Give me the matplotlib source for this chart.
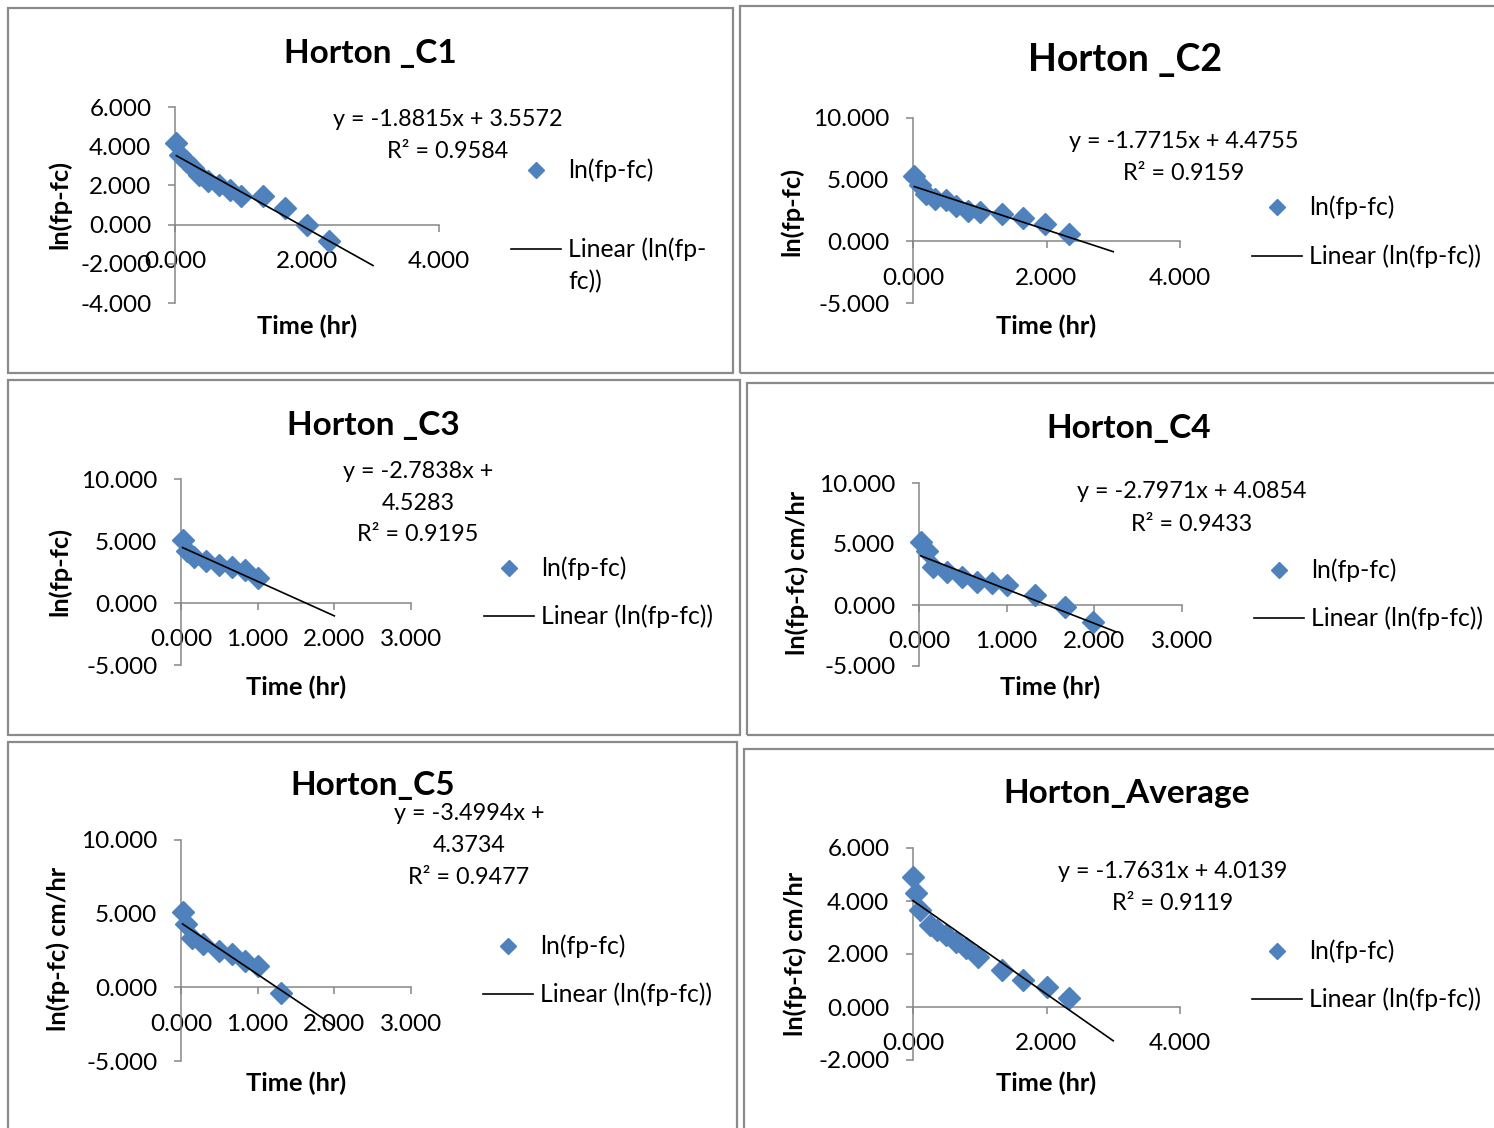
import matplotlib
matplotlib.use("Agg")
import numpy as np
import matplotlib.pyplot as plt
from matplotlib.lines import Line2D
from matplotlib.patches import Rectangle
from matplotlib.ticker import FuncFormatter, MultipleLocator

plt.rcParams['font.family'] = ['Lato', 'DejaVu Sans']

W, H = 1494, 1128
BLUE = '#4F81BD'
GREY = '#868686'

# data: time (hr) and ln(fp-fc)
c1_t = [0.02, 0.08, 0.17, 0.27, 0.37, 0.5, 0.67, 0.83, 1.0, 1.33, 1.67, 2.0, 2.33]
c1_v = [4.17, 3.56, 3.22, 2.88, 2.54, 2.2, 2.04, 1.78, 1.44, 1.44, 0.85, 0.0, -0.85]
c2_t = [0.02, 0.1, 0.2, 0.33, 0.5, 0.65, 0.82, 1.0, 1.33, 1.65, 1.98, 2.33]
c2_v = [5.3, 4.55, 3.85, 3.45, 3.35, 2.87, 2.5, 2.35, 2.2, 1.92, 1.38, 0.57]
c3_t = [0.02, 0.08, 0.17, 0.33, 0.5, 0.67, 0.83, 1.0]
c3_v = [5.1, 4.2, 3.75, 3.35, 3.1, 2.9, 2.65, 2.0]
c4_t = [0.02, 0.09, 0.16, 0.32, 0.49, 0.66, 0.83, 1.0, 1.32, 1.66, 1.99]
c4_v = [5.2, 4.4, 3.14, 2.73, 2.32, 1.91, 1.78, 1.64, 0.82, -0.14, -1.37]
c5_t = [0.02, 0.07, 0.14, 0.29, 0.49, 0.66, 0.83, 1.0, 1.31]
c5_v = [5.08, 4.28, 3.37, 2.92, 2.46, 2.24, 1.79, 1.45, -0.36]
avg_t = [0.0, 0.05, 0.1, 0.25, 0.36, 0.5, 0.65, 0.8, 0.98, 1.33, 1.65, 2.0, 2.33]
avg_v = [4.92, 4.29, 3.66, 3.09, 2.9, 2.72, 2.46, 2.21, 1.9, 1.4, 1.02, 0.77, 0.33]

# excel trendline coefficients (slope, intercept, r2) and forecast end
slopes = [-1.8815, -1.7715, -2.7838, -2.7971, -3.4994, -1.7631]
intercepts = [3.5572, 4.4755, 4.5283, 4.0854, 4.3734, 4.0139]
r2s = [0.9584, 0.9159, 0.9195, 0.9433, 0.9477, 0.9119]
trend_end = [3.0, 3.0, 2.0, 2.25, 2.0, 3.0]

titles = ['Horton _C1', 'Horton _C2', 'Horton _C3', 'Horton_C4', 'Horton_C5', 'Horton_Average']
ylabels = ['ln(fp-fc)', 'ln(fp-fc)', 'ln(fp-fc)', 'ln(fp-fc) cm/hr', 'ln(fp-fc) cm/hr', 'ln(fp-fc) cm/hr']
xlims = [(0, 4), (0, 4), (0, 3), (0, 3), (0, 3), (0, 4)]
ylims = [(-4, 6), (-5, 10), (-5, 10), (-5, 10), (-5, 10), (-2, 6)]
xsteps = [2, 2, 1, 1, 1, 2]
ysteps = [2, 5, 5, 5, 5, 2]
series = [(c1_t, c1_v), (c2_t, c2_v), (c3_t, c3_v), (c4_t, c4_v), (c5_t, c5_v), (avg_t, avg_v)]

# layout in pixels
boxes = [(8, 8, 733, 373), (740, 6, 1500, 373), (8, 380, 740, 735),
         (747, 383, 1500, 735), (8, 742, 737, 1135), (744, 749, 1500, 1135)]
plot_px = [(175, 439, 303, 107), (913, 1180, 303, 118), (181, 411, 665, 479),
           (919, 1182, 666, 483), (181, 411, 1061, 840), (913, 1180, 1060, 848)]
title_px = [(370, 53, 24), (1125, 60, 27), (373, 425, 24), (1129, 429, 24), (373, 786, 24), (1127, 794, 24)]
eq_px = [(448, 119, False), (1184, 142, False), (418, 471, True),
         (1192, 492, False), (469, 814, True), (1173, 872, False)]
ylab_px = [(60, 204), (792, 211), (60, 571), (797, 573), (58, 949), (795, 954)]
xlab_px = [(307, 326), (1046, 326), (296, 687), (1050, 687), (296, 1083), (1046, 1083)]
leg_px = [(536, 170, 511, 249, True), (1277, 207, 1252, 256, False), (509, 568, 484, 616, False),
          (1279, 570, 1254, 618, False), (508, 946, 483, 994, False), (1277, 951, 1252, 999, False)]

TICK_FS = 17.5
EQ_FS = 16.8
LEG_FS = 17.8
LAB_FS = 18.3


def fp(x, y):
    return x / W, 1 - y / H


fig = plt.figure(figsize=(W / 100, H / 100), dpi=100)

for i in range(6):
    x0, y0, x1, y1 = boxes[i]
    fig.add_artist(Rectangle(fp(x0, y1), (x1 - x0) / W, (y1 - y0) / H, transform=fig.transFigure,
                             fill=False, edgecolor='#8a8a8a', linewidth=1.6))

    pl, pr, pb, pt = plot_px[i]
    ax = fig.add_axes([pl / W, 1 - pb / H, (pr - pl) / W, (pb - pt) / H])
    ax.set_xlim(*xlims[i])
    ax.set_ylim(*ylims[i])
    ax.patch.set_alpha(0)
    for s in ['top', 'right']:
        ax.spines[s].set_visible(False)
    ax.spines['left'].set_position(('data', 0))
    ax.spines['bottom'].set_position(('data', 0))
    for s in ['left', 'bottom']:
        ax.spines[s].set_color(GREY)
        ax.spines[s].set_linewidth(1.1)
    ax.xaxis.set_major_locator(MultipleLocator(xsteps[i]))
    ax.yaxis.set_major_locator(MultipleLocator(ysteps[i]))
    fmt = FuncFormatter(lambda v, p: f"{v:.3f}")
    ax.xaxis.set_major_formatter(fmt)
    ax.yaxis.set_major_formatter(fmt)
    ax.tick_params(axis='both', direction='out', length=5, width=1.1, color=GREY, labelsize=TICK_FS)
    ax.tick_params(axis='x', pad=14)
    ax.tick_params(axis='y', pad=12)

    t, v = series[i]
    ax.plot(t, v, linestyle='none', marker='D', markersize=11, color=BLUE, clip_on=False, zorder=3)
    tx = np.array([t[0], trend_end[i]])
    ax.plot(tx, slopes[i] * tx + intercepts[i], color='black', linewidth=1.2, zorder=4, clip_on=False)

    # title and axis labels
    tx_, ty_, tsz = title_px[i]
    fig.text(*fp(tx_, ty_), titles[i], ha='center', va='center', fontsize=tsz, fontweight='bold')
    fig.text(*fp(*xlab_px[i]), 'Time (hr)', ha='center', va='center', fontsize=LAB_FS, fontweight='bold')
    fig.text(*fp(*ylab_px[i]), ylabels[i], ha='center', va='center', rotation=90,
             fontsize=LAB_FS, fontweight='bold')

    # trendline equation
    ex, ey, wrap = eq_px[i]
    eq1 = f"y = {slopes[i]:.4f}x + {intercepts[i]:.4f}"
    r2 = f"R\u00b2 = {r2s[i]:.4f}"
    if wrap:
        lines = [f"y = {slopes[i]:.4f}x +", f"{intercepts[i]:.4f}", r2]
    else:
        lines = [eq1, r2]
    for k, s in enumerate(lines):
        fig.text(*fp(ex, ey + 32 * k), s, ha='center', va='center', fontsize=EQ_FS)

    # legend
    mx, my, lx, ly, wrapleg = leg_px[i]
    fig.add_artist(Line2D([mx / W], [1 - my / H], transform=fig.transFigure, marker='D',
                          markersize=8.5, color=BLUE, linestyle='none'))
    fig.text(*fp(mx + 32, my), 'ln(fp-fc)', ha='left', va='center', fontsize=LEG_FS)
    fig.add_artist(Line2D([lx / W, (lx + 50) / W], [1 - ly / H, 1 - ly / H],
                          transform=fig.transFigure, color='black', linewidth=1.2))
    if wrapleg:
        fig.text(*fp(lx + 57, ly), 'Linear (ln(fp-', ha='left', va='center', fontsize=LEG_FS)
        fig.text(*fp(lx + 57, ly + 33), 'fc))', ha='left', va='center', fontsize=LEG_FS)
    else:
        fig.text(*fp(lx + 57, ly), 'Linear (ln(fp-fc))', ha='left', va='center', fontsize=LEG_FS)

fig.savefig('out.png', dpi=100)
